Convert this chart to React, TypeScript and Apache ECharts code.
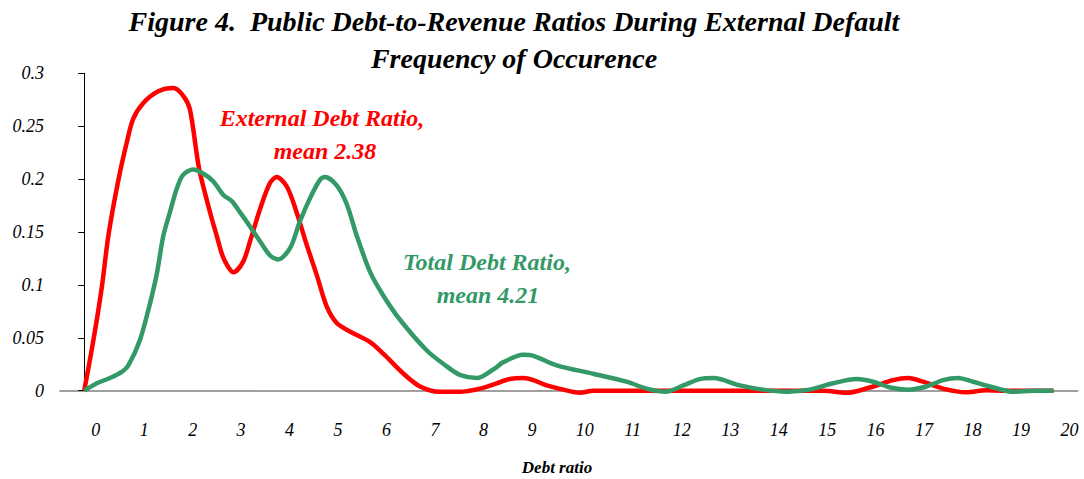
import React, { useEffect, useRef } from "react";
import * as echarts from "echarts";

const xCategories = ["0","1","2","3","4","5","6","7","8","9","10","11","12","13","14","15","16","17","18","19","20"];

const externalPoints: [number, number][] = [
  [0, 0], [0.19, 0.048], [0.36, 0.097], [0.5, 0.147], [0.7, 0.198], [0.88, 0.235],
  [1.01, 0.257], [1.22, 0.272], [1.53, 0.283], [1.84, 0.286], [2.04, 0.279], [2.18, 0.266],
  [2.37, 0.21], [2.6, 0.168], [2.73, 0.147], [2.85, 0.128], [2.97, 0.117], [3.08, 0.112],
  [3.28, 0.122], [3.42, 0.141], [3.63, 0.172], [3.83, 0.196], [3.97, 0.202], [4.18, 0.193],
  [4.38, 0.169], [4.59, 0.138], [4.8, 0.109], [5.0, 0.08], [5.21, 0.064], [5.48, 0.056],
  [5.9, 0.046], [6.17, 0.035], [6.59, 0.016], [6.93, 0.004], [7.34, -0.001], [7.75, -0.001],
  [8.17, 0.002], [8.51, 0.007], [8.78, 0.011], [9.06, 0.012], [9.27, 0.01], [9.54, 0.005],
  [9.89, 0.001], [10.23, -0.002], [10.5, 0], [11.5, 0], [12.5, 0], [13.5, 0], [14.5, 0],
  [15.25, 0], [15.73, -0.002], [16.21, 0.003], [16.69, 0.01], [17.0, 0.012], [17.31, 0.0085],
  [17.72, 0.002], [18.2, -0.0015], [18.62, 0.0005], [19.0, 0], [19.5, 0], [20, 0],
];

const totalPoints: [number, number][] = [
  [0, 0], [0.26, 0.007], [0.53, 0.012], [0.75, 0.017], [0.91, 0.024], [1.15, 0.048],
  [1.36, 0.083], [1.5, 0.111], [1.63, 0.146], [1.77, 0.169], [1.91, 0.191], [2.04, 0.204],
  [2.25, 0.209], [2.46, 0.205], [2.66, 0.198], [2.87, 0.185], [3.05, 0.179], [3.21, 0.169],
  [3.35, 0.16], [3.63, 0.141], [3.83, 0.128], [4.0, 0.124], [4.25, 0.135], [4.45, 0.16],
  [4.66, 0.182], [4.86, 0.199], [4.97, 0.202], [5.21, 0.194], [5.42, 0.176], [5.62, 0.147],
  [5.9, 0.112], [6.17, 0.09], [6.5, 0.068], [7.07, 0.038], [7.48, 0.023], [7.75, 0.015],
  [8.1, 0.012], [8.44, 0.02], [8.65, 0.027], [9.06, 0.034], [9.27, 0.033], [9.75, 0.024],
  [10.5, 0.016], [11.19, 0.0085], [11.6, 0.002], [12.0, -0.001], [12.36, 0.005], [12.7, 0.011],
  [12.98, 0.012], [13.53, 0.005], [14.0, 0.001], [14.5, -0.001], [14.97, 0.001], [15.45, 0.007],
  [15.94, 0.011], [16.28, 0.0085], [16.63, 0.003], [17.0, 0.001], [17.38, 0.004], [17.72, 0.01],
  [18.03, 0.012], [18.34, 0.0085], [18.69, 0.004], [19.17, -0.001], [19.58, 0], [20, 0],
];

const titleLines = [
  "Figure 4.  Public Debt-to-Revenue Ratios During External Default",
  "Frequency of Occurence",
];
const externalLabel = ["External Debt Ratio,", "mean 2.38"];
const totalLabel = ["Total Debt Ratio,", "mean 4.21"];
const xAxisName = "Debt ratio";

const RED = "#FF0000";
const GREEN = "#339966";
const SERIF = "'Liberation Serif', 'Times New Roman', serif";

export default function App() {
  const ref = useRef<HTMLDivElement>(null);
  useEffect(() => {
    if (!ref.current) return;
    const chart = echarts.init(ref.current, undefined, { renderer: "svg" });
    const txt = (text: string, x: number, y: number, size: number, color: string) => ({
      type: "text",
      x,
      y,
      style: {
        text,
        fill: color,
        fontFamily: SERIF,
        fontSize: size,
        fontWeight: "bold",
        fontStyle: "italic",
        textAlign: "center",
        textVerticalAlign: "middle",
      },
    });
    chart.setOption({
      animation: false,
      backgroundColor: "#ffffff",
      grid: { left: 60, top: 73.3, right: 6.3, bottom: 88.3, containLabel: false },
      xAxis: [
        {
          type: "category",
          data: xCategories,
          boundaryGap: true,
          axisLine: { lineStyle: { color: "#808080", width: 1.5 } },
          axisTick: { length: 6, lineStyle: { color: "#404040", width: 1 } },
          axisLabel: {
            fontFamily: SERIF,
            fontStyle: "italic",
            fontSize: 18,
            color: "#000",
            margin: 30,
            align: "left",
            padding: [0, 0, 0, 7],
            interval: 0,
          },
          splitLine: { show: false },
        },
        {
          type: "value",
          min: -0.5,
          max: 20.5,
          show: false,
        },
      ],
      yAxis: {
        type: "value",
        min: 0,
        max: 0.3,
        interval: 0.05,
        axisLine: { show: true, lineStyle: { color: "#000", width: 1 } },
        axisTick: { show: true, length: 6, lineStyle: { color: "#000" } },
        axisLabel: {
          fontFamily: SERIF,
          fontStyle: "italic",
          fontSize: 18,
          color: "#000",
          margin: 16,
        },
        splitLine: { show: false },
      },
      series: [
        {
          name: "External Debt Ratio",
          type: "line",
          xAxisIndex: 1,
          data: externalPoints,
          smooth: 0.3,
          showSymbol: false,
          clip: false,
          lineStyle: { color: RED, width: 4.5 },
        },
        {
          name: "Total Debt Ratio",
          type: "line",
          xAxisIndex: 1,
          data: totalPoints,
          smooth: 0.3,
          showSymbol: false,
          clip: false,
          lineStyle: { color: GREEN, width: 4.5 },
        },
      ],
      graphic: [
        txt(titleLines[0], 514, 21, 28, "#000"),
        txt(titleLines[1], 514, 58, 28, "#000"),
        txt(externalLabel[0], 322, 118, 24, RED),
        txt(externalLabel[1], 325, 151, 24, RED),
        txt(totalLabel[0], 487, 262, 24, GREEN),
        txt(totalLabel[1], 488, 295, 24, GREEN),
        txt(xAxisName, 557, 467, 17, "#000"),
      ],
    });
    return () => chart.dispose();
  }, []);
  return (
    <div
      ref={ref}
      style={{ position: "fixed", left: 0, top: 0, width: 1084, height: 479, background: "#fff" }}
    />
  );
}
